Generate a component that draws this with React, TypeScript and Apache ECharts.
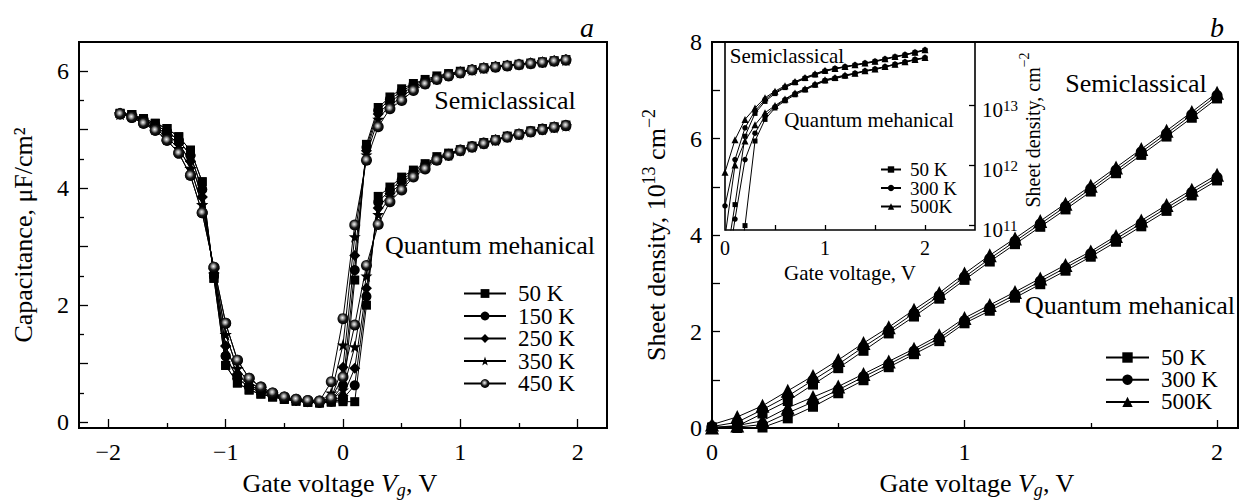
import React, { useEffect, useRef } from 'react';
import * as echarts from 'echarts';

const SERIF = 'Liberation Serif';

// ---------- Panel a: capacitance vs gate voltage ----------
const vgA = [
  -1.9, -1.8, -1.7, -1.6, -1.5, -1.4, -1.3, -1.2, -1.1, -1.0, -0.9, -0.8, -0.7, -0.6, -0.5, -0.4, -0.3, -0.2,
  -0.1, 0, 0.1, 0.2, 0.3, 0.4, 0.5, 0.6, 0.7, 0.8, 0.9, 1.0, 1.1, 1.2, 1.3, 1.4, 1.5, 1.6, 1.7, 1.8, 1.9,
];
const tempsA = ['50 K', '150 K', '250 K', '350 K', '450 K'];

// depletion side (-1.9 ... -0.2 V), shared by both models
const capDep50 = [5.28, 5.26, 5.19, 5.11, 5.02, 4.88, 4.65, 4.11, 2.46, 0.97, 0.67, 0.55, 0.48, 0.43, 0.39, 0.36, 0.34, 0.33];
const capDep150 = [5.28, 5.25, 5.17, 5.08, 4.97, 4.82, 4.56, 3.98, 2.5, 1.13, 0.75, 0.6, 0.51, 0.45, 0.4, 0.37, 0.35, 0.33];
const capDep250 = [5.28, 5.24, 5.15, 5.05, 4.92, 4.76, 4.46, 3.85, 2.55, 1.3, 0.82, 0.63, 0.54, 0.47, 0.41, 0.37, 0.35, 0.34];
const capDep350 = [5.27, 5.23, 5.13, 5.02, 4.87, 4.68, 4.34, 3.72, 2.6, 1.5, 0.92, 0.68, 0.57, 0.48, 0.42, 0.38, 0.36, 0.35];
const capDep450 = [5.27, 5.21, 5.11, 4.99, 4.82, 4.6, 4.22, 3.58, 2.65, 1.69, 1.06, 0.75, 0.6, 0.5, 0.43, 0.39, 0.37, 0.36];

// accumulation side (-0.1 ... 1.9 V), semiclassical
const capSc50 = [0.35, 0.38, 2.43, 4.75, 5.38, 5.56, 5.7, 5.79, 5.86, 5.92, 5.96, 6.0, 6.03, 6.06, 6.08, 6.1, 6.12, 6.14, 6.16, 6.18, 6.2];
const capSc150 = [0.38, 0.63, 2.6, 4.7, 5.33, 5.52, 5.66, 5.77, 5.84, 5.9, 5.95, 5.99, 6.03, 6.06, 6.08, 6.1, 6.12, 6.14, 6.16, 6.18, 6.2];
const capSc250 = [0.42, 0.94, 2.85, 4.64, 5.27, 5.47, 5.62, 5.74, 5.82, 5.89, 5.94, 5.99, 6.03, 6.06, 6.08, 6.1, 6.12, 6.14, 6.16, 6.18, 6.2];
const capSc350 = [0.5, 1.32, 3.17, 4.57, 5.18, 5.42, 5.56, 5.71, 5.8, 5.87, 5.93, 5.98, 6.02, 6.05, 6.08, 6.1, 6.12, 6.14, 6.16, 6.18, 6.19];
const capSc450 = [0.69, 1.77, 3.37, 4.48, 5.05, 5.36, 5.5, 5.67, 5.78, 5.86, 5.92, 5.97, 6.02, 6.05, 6.07, 6.09, 6.11, 6.13, 6.15, 6.17, 6.19];

// accumulation side (-0.1 ... 1.9 V), quantum mechanical
const capQm50 = [0.34, 0.35, 0.35, 2.0, 3.86, 4.02, 4.19, 4.31, 4.42, 4.54, 4.6, 4.66, 4.72, 4.78, 4.83, 4.89, 4.93, 4.98, 5.02, 5.05, 5.08];
const capQm150 = [0.35, 0.4, 0.63, 2.15, 3.76, 3.97, 4.14, 4.28, 4.4, 4.52, 4.59, 4.66, 4.72, 4.78, 4.83, 4.89, 4.93, 4.98, 5.02, 5.05, 5.08];
const capQm250 = [0.36, 0.45, 0.92, 2.29, 3.66, 3.91, 4.09, 4.25, 4.38, 4.51, 4.58, 4.65, 4.71, 4.77, 4.83, 4.88, 4.93, 4.97, 5.01, 5.05, 5.08];
const capQm350 = [0.38, 0.55, 1.29, 2.5, 3.55, 3.85, 4.03, 4.22, 4.36, 4.5, 4.57, 4.65, 4.71, 4.77, 4.82, 4.88, 4.92, 4.97, 5.01, 5.04, 5.07];
const capQm450 = [0.41, 0.77, 1.66, 2.68, 3.38, 3.77, 3.97, 4.19, 4.33, 4.48, 4.56, 4.64, 4.7, 4.76, 4.82, 4.87, 4.92, 4.96, 5.0, 5.04, 5.07];

// ---------- Panel b: sheet density (10^13 cm^-2) ----------
const vgB = [0, 0.1, 0.2, 0.3, 0.4, 0.5, 0.6, 0.7, 0.8, 0.9, 1.0, 1.1, 1.2, 1.3, 1.4, 1.5, 1.6, 1.7, 1.8, 1.9, 2.0];
const tempsB = ['50 K', '300 K', '500K'];

const nsSc50 = [0.01, 0.04, 0.3, 0.56, 0.9, 1.24, 1.6, 1.96, 2.31, 2.68, 3.07, 3.45, 3.81, 4.17, 4.53, 4.9, 5.28, 5.66, 6.04, 6.43, 6.83];
const nsSc300 = [0.03, 0.12, 0.38, 0.66, 0.99, 1.32, 1.68, 2.02, 2.38, 2.74, 3.13, 3.51, 3.87, 4.23, 4.59, 4.96, 5.34, 5.72, 6.1, 6.49, 6.89];
const nsSc500 = [0.07, 0.23, 0.46, 0.77, 1.08, 1.41, 1.76, 2.09, 2.45, 2.8, 3.2, 3.58, 3.93, 4.29, 4.65, 5.02, 5.4, 5.78, 6.16, 6.55, 6.95];
const nsQm50 = [0.0, 0.0, 0.01, 0.2, 0.44, 0.72, 0.99, 1.26, 1.53, 1.8, 2.17, 2.43, 2.7, 2.98, 3.26, 3.55, 3.86, 4.18, 4.5, 4.82, 5.13];
const nsQm300 = [0.0, 0.02, 0.07, 0.31, 0.54, 0.79, 1.06, 1.32, 1.59, 1.86, 2.22, 2.49, 2.76, 3.04, 3.32, 3.61, 3.92, 4.24, 4.56, 4.88, 5.19];
const nsQm500 = [0.01, 0.05, 0.15, 0.42, 0.64, 0.86, 1.12, 1.38, 1.64, 1.92, 2.28, 2.55, 2.82, 3.1, 3.38, 3.66, 3.98, 4.3, 4.62, 4.94, 5.25];

// inset: log10 of sheet density (cm^-2)
const lgSc50 = [10.3, 11.34, 12.48, 12.86, 13.06, 13.19, 13.29, 13.37, 13.44, 13.5, 13.56, 13.6, 13.63, 13.66, 13.69, 13.72, 13.76, 13.8, 13.83, 13.87, 13.91];
const lgSc300 = [11.32, 12.09, 12.62, 12.9, 13.09, 13.21, 13.3, 13.38, 13.45, 13.51, 13.57, 13.61, 13.64, 13.67, 13.7, 13.73, 13.77, 13.8, 13.84, 13.88, 13.92];
const lgSc500 = [11.88, 12.42, 12.76, 12.95, 13.12, 13.23, 13.32, 13.39, 13.46, 13.52, 13.58, 13.61, 13.64, 13.67, 13.7, 13.73, 13.77, 13.81, 13.84, 13.88, 13.92];
const lgQm50 = [9.0, 9.8, 10.99, 12.4, 12.76, 12.95, 13.07, 13.17, 13.25, 13.33, 13.4, 13.44, 13.48, 13.52, 13.56, 13.59, 13.63, 13.67, 13.71, 13.75, 13.78];
const lgQm300 = [10.0, 11.1, 12.09, 12.53, 12.82, 12.97, 13.09, 13.19, 13.26, 13.34, 13.41, 13.45, 13.49, 13.53, 13.57, 13.6, 13.64, 13.68, 13.72, 13.76, 13.79];
const lgQm500 = [10.8, 12.0, 12.4, 12.67, 12.87, 12.99, 13.1, 13.2, 13.27, 13.35, 13.42, 13.46, 13.5, 13.53, 13.57, 13.6, 13.64, 13.68, 13.72, 13.76, 13.79];

// tick positions
const aXMajor = [-2, -1, 0, 1, 2];
const aXMinor = [-1.5, -0.5, 0.5, 1.5];
const aYMajor = [0, 1, 2, 3, 4, 5, 6];
const aYMinor = [0.5, 1.5, 2.5, 3.5, 4.5, 5.5];
const aYLabels = [0, 2, 4, 6];
const bXMajor = [0, 1, 2];
const bXMinor = [0.5, 1.5];
const bYTicks = [1, 2, 3, 4, 5, 6, 7];
const bYLabels = [0, 2, 4, 6, 8];
const inXTicks = [0.5, 1, 1.5, 2];
const inXLabels = [0, 1, 2];
const inYDecades = [11, 12, 13];

const STAR =
  'path://M0,-10L2.35,-3.24L9.51,-3.09L3.8,1.24L5.88,8.09L0,4L-5.88,8.09L-3.8,1.24L-9.51,-3.09L-2.35,-3.24Z';

const shaded = new echarts.graphic.RadialGradient(0.45, 0.42, 0.55, [
  { offset: 0, color: '#f2f2f2' },
  { offset: 0.3, color: '#9a9a9a' },
  { offset: 0.62, color: '#1a1a1a' },
  { offset: 1, color: '#000' },
]);

const minus = (v: number) => String(v).replace('-', '\u2212');

const pair = (xs: number[], ys: number[]) => xs.map((x, i) => [x, ys[i]]);

function lineSeries(name: string, data: number[][], xi: number, yi: number, symbol: string, size: number, fill: any, z: number) {
  return {
    type: 'line',
    name,
    xAxisIndex: xi,
    yAxisIndex: yi,
    data,
    symbol,
    symbolSize: size,
    showAllSymbol: true,
    clip: true,
    silent: true,
    z,
    lineStyle: { color: '#000', width: 1 },
    itemStyle: { color: fill, borderWidth: 0 },
    emphasis: { disabled: true },
  };
}

function tickAxis(gridIndex: number, min: number, max: number, position: string, ticks: number[], len: number, labels?: number[], labelOpts: any = {}) {
  return {
    type: 'value',
    gridIndex,
    min,
    max,
    position,
    axisLine: { show: false, onZero: false },
    splitLine: { show: false },
    axisTick: { show: true, inside: true, length: len, customValues: ticks, lineStyle: { color: '#000', width: 1.3 } },
    axisLabel: labels
      ? { show: true, customValues: labels, color: '#000', fontFamily: SERIF, fontSize: 24, formatter: minus, ...labelOpts }
      : { show: false },
  };
}

function txt(x: number, y: number, text: string, size: number, extra: any = {}) {
  return {
    type: 'text',
    x,
    y,
    rotation: extra.rotation || 0,
    silent: true,
    style: {
      text,
      fontFamily: SERIF,
      fontSize: size,
      fontStyle: extra.italic ? 'italic' : 'normal',
      fill: '#000',
      align: 'center',
      verticalAlign: 'middle',
      rich: extra.rich,
    },
  };
}

const richBase = (size: number) => ({
  n: { fontFamily: SERIF, fontSize: size, lineHeight: 32, fill: '#000' },
  v: { fontFamily: SERIF, fontSize: size, fontStyle: 'italic', lineHeight: 32, fill: '#000' },
  g: { fontFamily: SERIF, fontSize: 18, fontStyle: 'italic', lineHeight: 14, verticalAlign: 'bottom', fill: '#000' },
  s: { fontFamily: SERIF, fontSize: Math.round(size * 0.68), lineHeight: 14, verticalAlign: 'top', fill: '#000' },
});

export default function App() {
  const ref = useRef<HTMLDivElement>(null);

  useEffect(() => {
    if (!ref.current) return;
    const chart = echarts.init(ref.current, undefined, { renderer: 'svg' });

    const depA = [capDep50, capDep150, capDep250, capDep350, capDep450];
    const scA = [capSc50, capSc150, capSc250, capSc350, capSc450];
    const qmA = [capQm50, capQm150, capQm250, capQm350, capQm450];
    const symA = ['rect', 'circle', 'diamond', STAR, 'circle'];
    const sizeA = [9, 10, 11, 12, 11];
    const fillA = ['#000', '#000', '#000', '#000', shaded];

    const series: any[] = [];
    tempsA.forEach((t, k) => {
      series.push(lineSeries(t, pair(vgA, depA[k].concat(scA[k])), 0, 0, symA[k], sizeA[k], fillA[k], 2 + k));
      series.push(lineSeries(t, pair(vgA, depA[k].concat(qmA[k])), 0, 0, symA[k], sizeA[k], fillA[k], 2 + k));
    });

    const scB = [nsSc50, nsSc300, nsSc500];
    const qmB = [nsQm50, nsQm300, nsQm500];
    const symB = ['rect', 'circle', 'triangle'];
    const sizeB = [10, 11, 14];
    tempsB.forEach((t, k) => {
      series.push(lineSeries(t, pair(vgB, scB[k]), 2, 2, symB[k], sizeB[k], '#000', 2 + k));
      series.push(lineSeries(t, pair(vgB, qmB[k]), 2, 2, symB[k], sizeB[k], '#000', 2 + k));
    });

    const scIn = [lgSc50, lgSc300, lgSc500];
    const qmIn = [lgQm50, lgQm300, lgQm500];
    const sizeIn = [5, 5.5, 7];
    tempsB.forEach((t, k) => {
      series.push(lineSeries(t, pair(vgB, scIn[k]), 4, 3, symB[k], sizeIn[k], '#000', 2 + k));
      series.push(lineSeries(t, pair(vgB, qmIn[k]), 4, 3, symB[k], sizeIn[k], '#000', 2 + k));
    });

    const legendBase = {
      orient: 'vertical',
      padding: 0,
      selectedMode: false,
      inactiveColor: '#000',
    };

    const option: any = {
      animation: false,
      backgroundColor: '#fff',
      textStyle: { fontFamily: SERIF },
      grid: [
        { left: 79, top: 42, width: 528, height: 386, show: true, borderColor: '#000', borderWidth: 2, backgroundColor: 'transparent' },
        { left: 712, top: 42, width: 526, height: 386, show: true, borderColor: '#000', borderWidth: 2, backgroundColor: 'transparent' },
        { left: 725, top: 42, width: 250, height: 188, show: true, borderColor: '#000', borderWidth: 1.6, backgroundColor: 'transparent' },
      ],
      xAxis: [
        tickAxis(0, -2.25, 2.25, 'bottom', aXMajor, 9, aXMajor, { margin: 12 }),
        tickAxis(0, -2.25, 2.25, 'bottom', aXMinor, 5),
        tickAxis(1, 0, 2.083, 'bottom', bXMajor, 8, bXMajor, { margin: 12 }),
        tickAxis(1, 0, 2.083, 'bottom', bXMinor, 5),
        tickAxis(2, 0, 2.5, 'bottom', inXTicks, 5, inXLabels, { margin: 8, fontSize: 20 }),
      ],
      yAxis: [
        tickAxis(0, -0.1, 6.5, 'left', aYMajor, 9, aYLabels, { margin: 10 }),
        tickAxis(0, -0.1, 6.5, 'left', aYMinor, 5),
        tickAxis(1, 0, 8, 'left', bYTicks, 8, bYLabels, { margin: 10 }),
        tickAxis(2, 10.917, 14.05, 'right', inYDecades, 6, inYDecades, {
          margin: 7,
          padding: [10, 0, 0, 0],
          formatter: (v: number) => `{b|10}{s|${v}}`,
          rich: {
            b: { fontFamily: SERIF, fontSize: 21, lineHeight: 24, color: '#000' },
            s: { fontFamily: SERIF, fontSize: 15, lineHeight: 12, verticalAlign: 'top', color: '#000' },
          },
        }),
      ],
      legend: [
        {
          ...legendBase,
          data: tempsA,
          left: 463,
          top: 282,
          itemWidth: 42,
          itemHeight: 11,
          itemGap: -0.5,
          textStyle: { fontFamily: SERIF, fontSize: 23, color: '#000', lineHeight: 11, padding: [0, 0, 0, 7] },
        },
        {
          ...legendBase,
          data: tempsB,
          left: 1105,
          top: 346,
          itemWidth: 43,
          itemHeight: 13,
          itemGap: -0.8,
          textStyle: { fontFamily: SERIF, fontSize: 23, color: '#000', lineHeight: 13, padding: [0, 0, 0, 7] },
        },
        {
          ...legendBase,
          data: tempsB,
          left: 880,
          top: 160,
          itemWidth: 20,
          itemHeight: 8,
          itemGap: -0.5,
          textStyle: { fontFamily: SERIF, fontSize: 19, color: '#000', lineHeight: 8, padding: [0, 0, 0, 4] },
        },
      ],
      graphic: [
        txt(587, 27, 'a', 28, { italic: true }),
        txt(1217, 27, 'b', 28, { italic: true }),
        txt(505, 100, 'Semiclassical', 26),
        txt(490, 245, 'Quantum mehanical', 26),
        txt(1136, 83, 'Semiclassical', 26),
        txt(1130, 305, 'Quantum mehanical', 26),
        txt(787, 56, 'Semiclassical', 21),
        txt(869, 120, 'Quantum mehanical', 21),
        txt(850, 273, 'Gate voltage, V', 21),
        txt(23, 235, 'Capacitance, \u03BCF/cm\u00B2', 26, { rotation: Math.PI / 2 }),
        txt(340, 483, '{n|Gate voltage }{v|V}{g|g}{n|, V}', 26, { rich: richBase(26) }),
        txt(977, 483, '{n|Gate voltage }{v|V}{g|g}{n|, V}', 26, { rich: richBase(26) }),
        txt(656, 235, '{n|Sheet density, 10}{s|13}{n| cm}{s|\u22122}', 26, { rotation: Math.PI / 2, rich: richBase(26) }),
        txt(1033, 130, '{n|Sheet density, cm}{s|\u22122}', 20, { rotation: Math.PI / 2, rich: richBase(20) }),
      ],
      series,
    };

    chart.setOption(option);
    return () => chart.dispose();
  }, []);

  return (
    <div
      ref={ref}
      style={{ position: 'fixed', left: 0, top: 0, width: 1243, height: 503, background: '#fff' }}
    />
  );
}
